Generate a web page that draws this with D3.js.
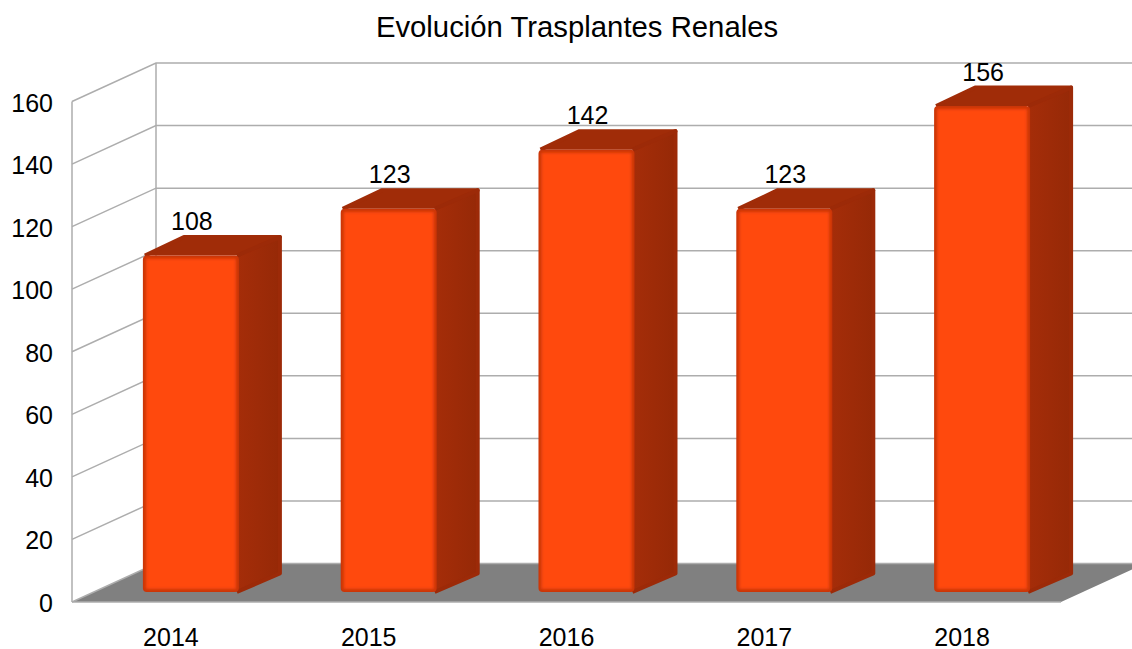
<!DOCTYPE html>
<html lang="en">
<head>
  <meta charset="UTF-8">
  <title>Evolución Trasplantes Renales</title>
  <script src="https://cdnjs.cloudflare.com/ajax/libs/d3/7.8.5/d3.min.js"></script>
  <style>
    html, body { margin: 0; padding: 0; background: #fff; }
    svg { display: block; font-family: "Liberation Sans", Arial, sans-serif; }
  </style>
</head>
<body>
  <svg id="chart" width="1132" height="649"></svg>
  <script>
    const years = ['2014', '2015', '2016', '2017', '2018'];
    const transplants = [108, 123, 142, 123, 156];
    const yTicks = [0, 20, 40, 60, 80, 100, 120, 140, 160];
    const title = 'Evolución Trasplantes Renales';

    const svg = d3.select('#chart');

    const x = d3.scaleBand().domain(years).range([72, 1061]);
    const y = d3.scaleLinear().domain([0, 160]).range([602, 101.5]);
    // bars stand further back on the floor, so they get their own scale
    const yBar = d3.scaleLinear().domain([0, 160]).range([592, 93.6]);

    const wallDx = 84, wallDy = -38.5;   // depth of the whole box
    const barDx = 20;                    // front face of a bar, from the front edge
    const sideDx = 41, sideDy = -18.5;   // depth of a bar
    const barW = 96;
    const gridColor = '#adadad';

    const defs = svg.append('defs');
    const blur = defs.append('filter').attr('id', 'soft')
      .attr('x', '-5%').attr('y', '-5%').attr('width', '110%').attr('height', '110%');
    blur.append('feGaussianBlur').attr('stdDeviation', 1.5);
    const sideGrad = defs.append('linearGradient').attr('id', 'side');
    sideGrad.append('stop').attr('offset', '0').attr('stop-color', '#a52d09');
    sideGrad.append('stop').attr('offset', '1').attr('stop-color', '#962907');

    // floor
    svg.append('path')
      .attr('d', d3.line()([
        [x.range()[0], y(0)],
        [x.range()[1], y(0)],
        [x.range()[1] + wallDx, y(0) + wallDy],
        [x.range()[0] + wallDx, y(0) + wallDy]
      ]))
      .attr('fill', '#808080');

    // grid on side wall and back wall
    const grid = svg.append('g').attr('fill', 'none').attr('stroke', gridColor).attr('stroke-width', 1.5);
    grid.selectAll('path.g').data(yTicks).join('path')
      .attr('class', 'g')
      .attr('d', d => d3.line()([
        [x.range()[0], y(d)],
        [x.range()[0] + wallDx, y(d) + wallDy],
        [x.range()[1] + wallDx, y(d) + wallDy]
      ]));
    grid.append('line')
      .attr('x1', x.range()[0]).attr('x2', x.range()[0])
      .attr('y1', y(0)).attr('y2', y(160));
    grid.append('line')
      .attr('x1', x.range()[0] + wallDx).attr('x2', x.range()[0] + wallDx)
      .attr('y1', y(0) + wallDy).attr('y2', y(160) + wallDy);
    grid.append('line')
      .attr('x1', x.range()[0]).attr('x2', x.range()[1])
      .attr('y1', y(0)).attr('y2', y(0));

    // bars
    const data = years.map((year, i) => ({ year, value: transplants[i] }));
    const bars = svg.selectAll('g.bar').data(data).join('g').attr('class', 'bar');
    const barLeft = d => x(d.year) + x.bandwidth() / 2 - barW / 2 + barDx;
    const barTop = d => yBar(d.value);
    const barBottom = yBar(0);

    // top face
    bars.append('path')
      .attr('d', d => d3.line()([
        [barLeft(d) + 2, barTop(d)],
        [barLeft(d) + sideDx, barTop(d) + sideDy],
        [barLeft(d) + barW + sideDx, barTop(d) + sideDy],
        [barLeft(d) + barW, barTop(d)]
      ]))
      .attr('fill', '#a02c08')
      .attr('stroke', '#a02c08')
      .attr('stroke-width', 4)
      .attr('stroke-linejoin', 'round');
    // side face
    bars.append('path')
      .attr('d', d => d3.line()([
        [barLeft(d) + barW - 2, barTop(d)],
        [barLeft(d) + barW + sideDx, barTop(d) + sideDy],
        [barLeft(d) + barW + sideDx, barBottom + sideDy],
        [barLeft(d) + barW - 2, barBottom]
      ]))
      .attr('fill', 'url(#side)')
      .attr('stroke', '#9c2a08')
      .attr('stroke-width', 4)
      .attr('stroke-linejoin', 'round');
    // front face, darker bevel with the bright part blurred on top
    bars.append('rect')
      .attr('x', barLeft).attr('y', barTop)
      .attr('width', barW).attr('height', d => barBottom - barTop(d))
      .attr('rx', 4)
      .attr('fill', '#c93508');
    bars.append('rect')
      .attr('x', d => barLeft(d) + 3).attr('y', d => barTop(d) + 3)
      .attr('width', barW - 6).attr('height', d => barBottom - barTop(d) - 6)
      .attr('fill', '#ff4a0e')
      .attr('filter', 'url(#soft)');

    // value labels
    bars.append('text')
      .attr('x', d => barLeft(d) + barW / 2 + 1)
      .attr('y', d => barTop(d) + sideDy - 7)
      .attr('text-anchor', 'middle')
      .attr('font-size', 25)
      .attr('fill', '#000')
      .text(d => d.value);

    // axes
    const yAxis = svg.append('g')
      .attr('transform', 'translate(53,1.5)')
      .call(d3.axisLeft(y).tickValues(yTicks).tickSize(0).tickPadding(0));
    yAxis.select('.domain').remove();
    yAxis.selectAll('text').attr('font-size', 25).attr('font-family', null).attr('fill', '#000');

    const xAxis = svg.append('g')
      .attr('transform', 'translate(0,628)')
      .call(d3.axisBottom(x).tickSize(0).tickPadding(0));
    xAxis.select('.domain').remove();
    xAxis.selectAll('text').attr('font-size', 25).attr('font-family', null).attr('fill', '#000');

    svg.append('text')
      .attr('x', 577).attr('y', 37)
      .attr('text-anchor', 'middle')
      .attr('font-size', 29.3)
      .attr('fill', '#000')
      .text(title);
  </script>
</body>
</html>
